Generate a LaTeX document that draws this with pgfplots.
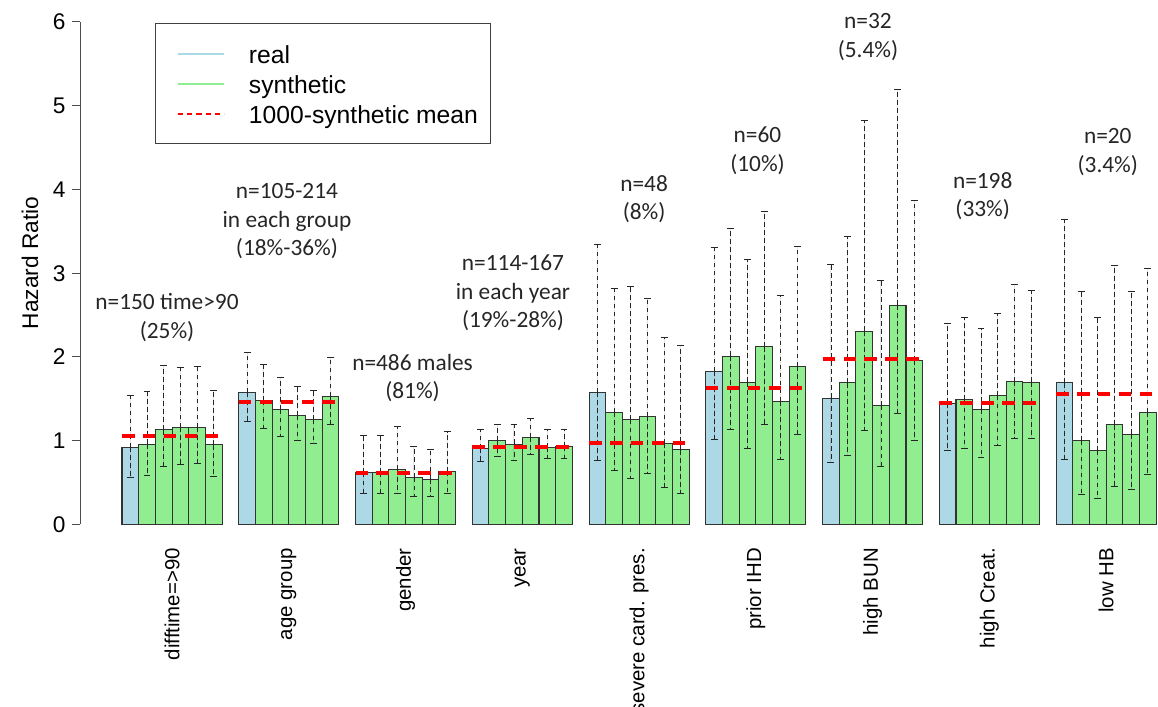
\documentclass[border=0pt]{standalone}
\usepackage{pgfplots}
\pgfplotsset{compat=1.18}
\usepackage{pgfplotstable}
\usepackage{fontspec}
\setmainfont{Liberation Sans}
\newfontfamily\calib{Carlito}
\definecolor{lb}{HTML}{ADD8E6}
\definecolor{lg}{HTML}{90EE90}
\definecolor{legred}{HTML}{FF0000}

% real bars: x centre, HR, lower CI, upper CI
\pgfplotstableread{
x y lo hi
1.5 0.92 0.56 1.54
8.5 1.58 1.23 2.05
15.5 0.62 0.37 1.06
22.5 0.91 0.75 1.13
29.5 1.58 0.76 3.35
36.5 1.83 1.02 3.31
43.5 1.51 0.74 3.11
50.5 1.45 0.88 2.40
57.5 1.69 0.78 3.64
}\realtab

% synthetic bars
\pgfplotstableread{
x y lo hi
2.5 0.96 0.59 1.59
3.5 1.13 0.69 1.90
4.5 1.16 0.72 1.88
5.5 1.16 0.73 1.89
6.5 0.95 0.58 1.60
9.5 1.48 1.15 1.91
10.5 1.37 1.05 1.76
11.5 1.30 1.01 1.65
12.5 1.25 0.97 1.60
13.5 1.53 1.19 1.99
16.5 0.62 0.37 1.06
17.5 0.66 0.37 1.17
18.5 0.56 0.34 0.93
19.5 0.54 0.33 0.90
20.5 0.63 0.37 1.11
23.5 1.00 0.81 1.20
24.5 0.96 0.77 1.19
25.5 1.04 0.84 1.27
26.5 0.92 0.79 1.14
27.5 0.93 0.79 1.14
30.5 1.34 0.64 2.82
31.5 1.25 0.55 2.84
32.5 1.29 0.61 2.70
33.5 0.97 0.44 2.23
34.5 0.89 0.37 2.14
37.5 2.01 1.14 3.53
38.5 1.70 0.91 3.16
39.5 2.12 1.20 3.74
40.5 1.47 0.78 2.73
41.5 1.89 1.08 3.32
44.5 1.69 0.83 3.445
45.5 2.31 1.12 4.83
46.5 1.42 0.69 2.91
47.5 2.62 1.33 5.19
48.5 1.96 1.00 3.87
51.5 1.49 0.91 2.47
52.5 1.37 0.80 2.34
53.5 1.54 0.95 2.52
54.5 1.71 1.03 2.87
55.5 1.70 1.03 2.80
58.5 1.00 0.36 2.78
59.5 0.88 0.31 2.47
60.5 1.19 0.46 3.09
61.5 1.08 0.42 2.78
62.5 1.34 0.60 3.06
}\syntab

% 1000-synthetic mean per group (segments spanning each group)
\pgfplotstableread{
x m
1 1.06
7 1.06
7.5 nan
8 1.465
14 1.465
14.5 nan
15 0.62
21 0.62
21.5 nan
22 0.92
28 0.92
28.5 nan
29 0.975
35 0.975
35.5 nan
36 1.625
42 1.625
42.5 nan
43 1.98
49 1.98
49.5 nan
50 1.45
56 1.45
56.5 nan
57 1.56
63 1.56
}\meantab

\begin{document}
\begin{tikzpicture}
\path[use as bounding box] (0,0) rectangle (868.5pt,530.25pt);
\begin{axis}[
  anchor=origin, at={(78.99pt,136.875pt)},
  x=12.51pt, y=62.8125pt,
  xmin=-1.5, xmax=63.1, ymin=0, ymax=6,
  enlargelimits=false, clip=false,
  axis y line*=left, axis x line*=bottom,
  x axis line style={draw=none},
  y axis line style={draw=black!70, line width=0.75pt},
  ytick={0,1,2,3,4,5,6},
  ytick style={draw=black!70, line width=0.75pt},
  tick align=outside, major tick length=6pt,
  xtick={4,11,18,25,32,39,46,53,60},
  xticklabels={difftime=>90, age group, gender, year, severe card. pres., prior IHD, high BUN, high Creat., low HB},
  xtick style={draw=none},
  yticklabel style={font=\fontsize{17}{20}\selectfont, anchor=east, inner sep=0pt},
  /pgf/number format/assume math mode=true,
  yticklabel shift=5pt,
  xticklabel style={font=\fontsize{15.3}{18}\selectfont, rotate=90, anchor=east, inner sep=0pt},
  xticklabel shift=11.6pt,
  ylabel={Hazard Ratio},
  every axis y label/.style={at={(rel axis cs:-0.0467,0.5204)}, rotate=90, anchor=center, font=\fontsize{17}{20}\selectfont},
  unbounded coords=jump,
  legend cell align=left,
  legend style={at={(axis cs:2.98,5.99)}, anchor=north west, draw=black!75, line width=0.6pt,
    inner xsep=9.5pt, inner ysep=14.5pt, row sep=6pt,
    font=\fontsize{18.5}{20}\selectfont,
    nodes={inner sep=0pt, text height=16pt, text depth=0.5pt},
    /tikz/every odd column/.append style={column sep=17.8pt}},
]
\addlegendimage{legend image code/.code={\path (0pt,-1pt) (0pt,6.2pt); \draw[draw=lb, line width=1.5pt] (6.8pt,0pt) -- (41.8pt,0pt);}}
\addlegendentry{real}
\addlegendimage{legend image code/.code={\path (0pt,-1pt) (0pt,6.2pt); \draw[draw=lg, line width=1.5pt] (6.8pt,0pt) -- (41.8pt,0pt);}}
\addlegendentry{synthetic}
\addlegendimage{legend image code/.code={\path (0pt,-1pt) (0pt,6.2pt); \draw[draw=legred, line width=1.5pt, dash pattern=on 4pt off 3pt] (6.8pt,0pt) -- (41.8pt,0pt);}}
\addlegendentry{1000-synthetic mean}

\addplot[ybar, bar width=1, bar shift=0pt, fill=lb, draw=black!80, line width=0.8pt, forget plot,
  error bars/.cd, y dir=both, y explicit,
  error bar style={black!85, line width=0.6pt, dash pattern=on 3.5pt off 2.5pt},
  error mark options={rotate=90, black!85, mark size=2.6pt, line width=0.6pt, solid}]
  table[x=x, y=y, y error plus expr=\thisrow{hi}-\thisrow{y}, y error minus expr=\thisrow{y}-\thisrow{lo}] {\realtab};
\addplot[ybar, bar width=1, bar shift=0pt, fill=lg, draw=black!80, line width=0.8pt, forget plot,
  error bars/.cd, y dir=both, y explicit,
  error bar style={black!85, line width=0.6pt, dash pattern=on 3.5pt off 2.5pt},
  error mark options={rotate=90, black!85, mark size=2.6pt, line width=0.6pt, solid}]
  table[x=x, y=y, y error plus expr=\thisrow{hi}-\thisrow{y}, y error minus expr=\thisrow{y}-\thisrow{lo}] {\syntab};
\addplot[red, line width=3pt, dash pattern=on 9.4pt off 6.3pt, forget plot] table[x=x, y=m] {\meantab};

\begin{scope}[every node/.style={font=\calib\fontsize{17.5}{21.4}\selectfont, align=center, text=black!85}]
\node at (axis cs:3.70,2.47) {n=150 time>90\\(25\%)};
\node at (axis cs:10.89,3.62) {n=105-214\\in each group\\(18\%-36\%)};
\node at (axis cs:18.42,1.75) {n=486 males\\(81\%)};
\node at (axis cs:24.44,2.764) {n=114-167\\in each year\\(19\%-28\%)};
\node at (axis cs:32.3,3.887) {n=48\\(8\%)};
\node at (axis cs:39.1,4.46) {n=60\\(10\%)};
\node at (axis cs:45.72,5.82) {n=32\\(5.4\%)};
\node at (axis cs:52.6,3.92) {n=198\\(33\%)};
\node at (axis cs:60.1,4.45) {n=20\\(3.4\%)};
\end{scope}
\end{axis}
\end{tikzpicture}
\end{document}
